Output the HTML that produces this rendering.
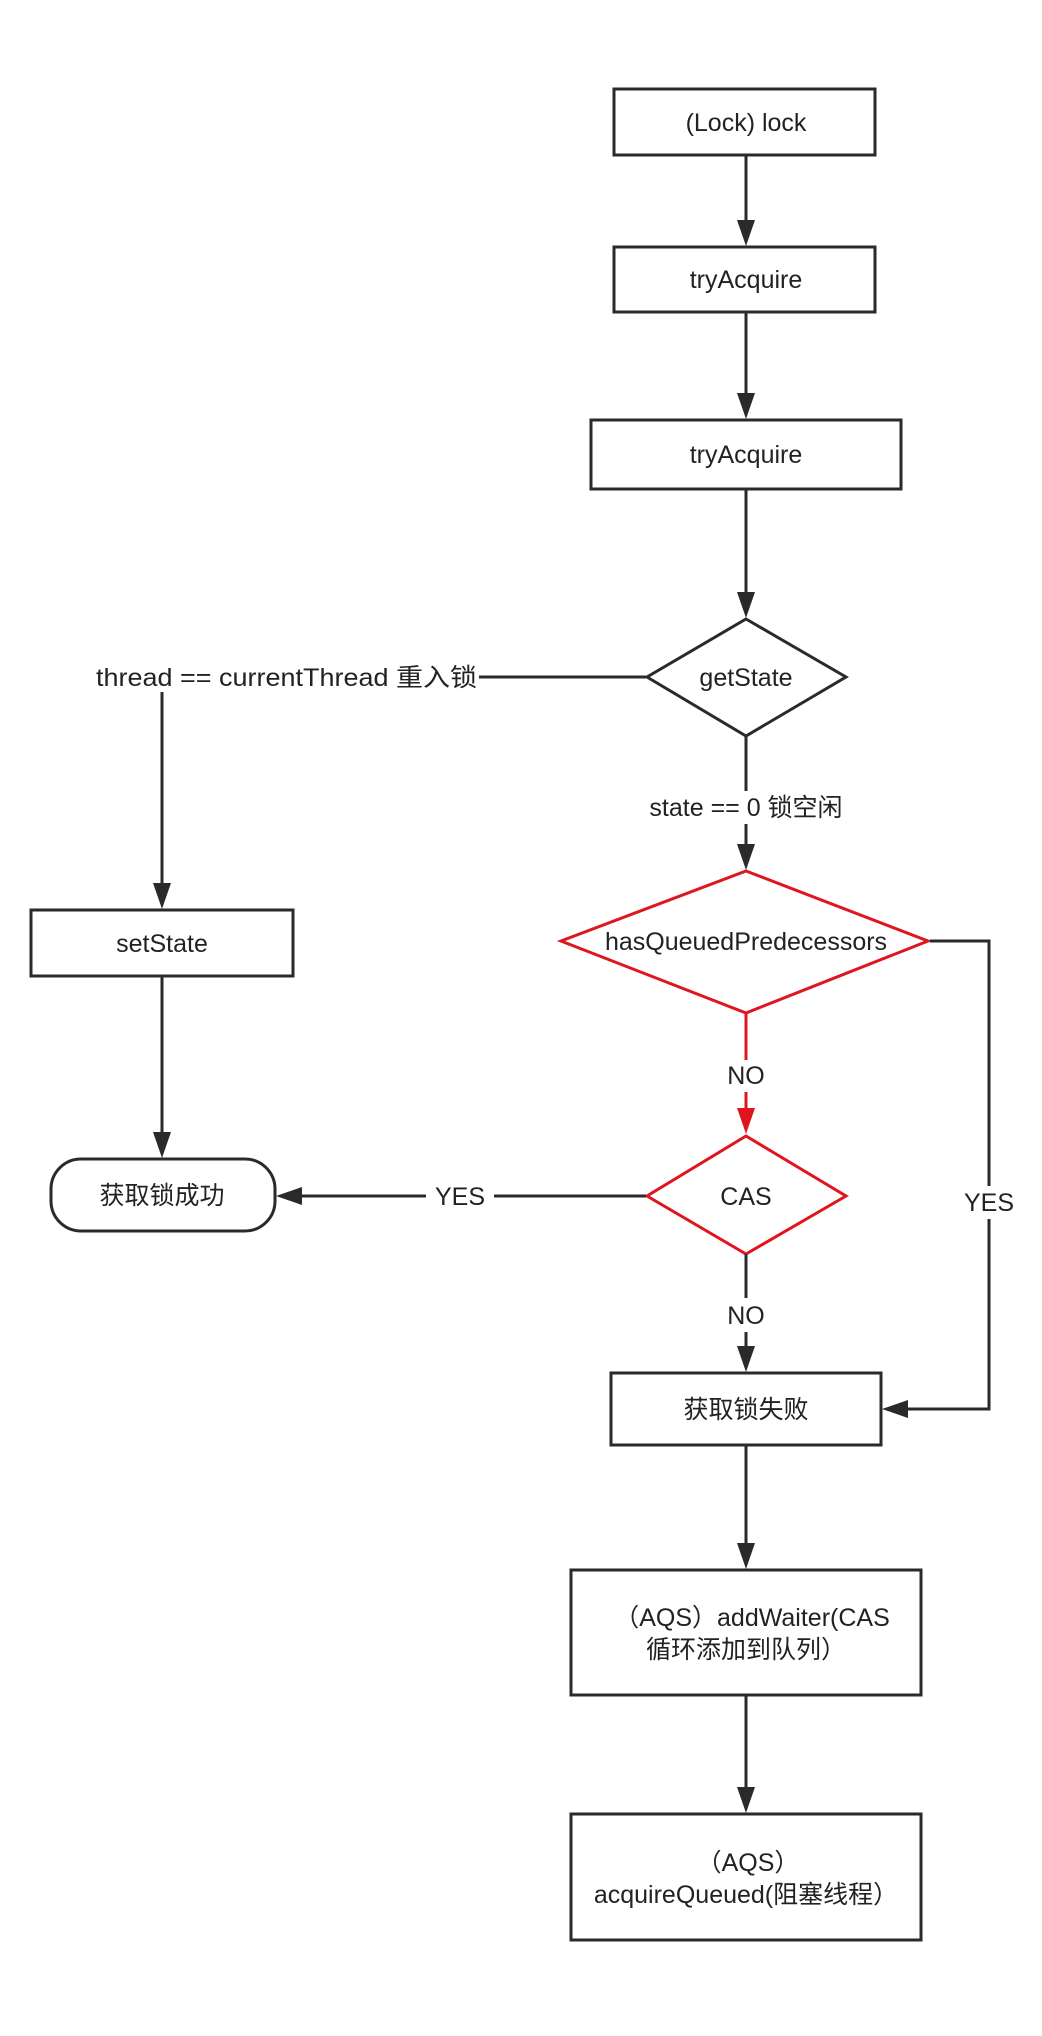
<!DOCTYPE html>
<html><head><meta charset="utf-8"><style>
html,body{margin:0;padding:0;background:#fff;}
svg{display:block;}
text{font-family:"Liberation Sans","Noto Sans CJK SC",sans-serif;font-size:25px;fill:#222;}
</style></head><body>
<svg width="1042" height="2036" viewBox="0 0 1042 2036" xmlns="http://www.w3.org/2000/svg">
<g stroke="#2a2a2a" stroke-width="3" fill="none">
<rect x="614" y="89" width="261" height="66"/>
<rect x="614" y="247" width="261" height="65"/>
<rect x="591" y="420" width="310" height="69"/>
<polygon points="746,619 846,677 746,736 647,677"/>
<rect x="31" y="910" width="262" height="66"/>
<rect x="51" y="1159" width="224" height="72" rx="30"/>
<rect x="611" y="1373" width="270" height="72"/>
<rect x="571" y="1570" width="350" height="125"/>
<rect x="571" y="1814" width="350" height="126"/>
</g>
<g stroke="#e0161f" stroke-width="3" fill="none">
<polygon points="746,871 928,941 746,1013 561,941"/>
<polygon points="746,1136 846,1196 746,1254 647,1196"/>
<line x1="746" y1="1013" x2="746" y2="1060"/>
<line x1="746" y1="1092" x2="746" y2="1110"/>
</g>
<path d="M737,1108 L755,1108 L746,1134 z" fill="#e0161f"/>
<g stroke="#2a2a2a" stroke-width="3" fill="none">
<line x1="746" y1="155" x2="746" y2="222"/>
<line x1="746" y1="312" x2="746" y2="395"/>
<line x1="746" y1="489" x2="746" y2="594"/>
<line x1="646" y1="677" x2="479" y2="677"/>
<line x1="162" y1="692" x2="162" y2="885"/>
<line x1="162" y1="976" x2="162" y2="1134"/>
<line x1="746" y1="736" x2="746" y2="791"/>
<line x1="746" y1="824" x2="746" y2="846"/>
<polyline points="930,941 989,941 989,1186"/>
<polyline points="989,1219 989,1409 906,1409"/>
<line x1="646" y1="1196" x2="494" y2="1196"/>
<line x1="426" y1="1196" x2="300" y2="1196"/>
<line x1="746" y1="1254" x2="746" y2="1298"/>
<line x1="746" y1="1332" x2="746" y2="1348"/>
<line x1="746" y1="1445" x2="746" y2="1545"/>
<line x1="746" y1="1695" x2="746" y2="1789"/>
</g>
<g fill="#2a2a2a">
<path d="M737,220 L755,220 L746,246 z"/>
<path d="M737,393 L755,393 L746,419 z"/>
<path d="M737,592 L755,592 L746,618 z"/>
<path d="M153,883 L171,883 L162,909 z"/>
<path d="M153,1132 L171,1132 L162,1158 z"/>
<path d="M737,844 L755,844 L746,870 z"/>
<path d="M737,1346 L755,1346 L746,1372 z"/>
<path d="M737,1543 L755,1543 L746,1569 z"/>
<path d="M737,1787 L755,1787 L746,1813 z"/>
<path d="M302,1187 L302,1205 L276,1196 z"/>
<path d="M908,1400 L908,1418 L882,1409 z"/>
</g>
<g text-anchor="middle">
<text x="746" y="131">(Lock) lock</text>
<text x="746" y="288">tryAcquire</text>
<text x="746" y="463">tryAcquire</text>
<text x="746" y="686">getState</text>
<text x="96" y="686" text-anchor="start" textLength="381" lengthAdjust="spacingAndGlyphs">thread == currentThread 重入锁</text>
<text x="746" y="816">state == 0 锁空闲</text>
<text x="746" y="950">hasQueuedPredecessors</text>
<text x="162" y="952">setState</text>
<text x="746" y="1084">NO</text>
<text x="746" y="1205">CAS</text>
<text x="162" y="1204">获取锁成功</text>
<text x="460" y="1205">YES</text>
<text x="989" y="1211">YES</text>
<text x="746" y="1324">NO</text>
<text x="746" y="1418">获取锁失败</text>
<text x="752" y="1626">（AQS）addWaiter(CAS</text>
<text x="746" y="1658">循环添加到队列）</text>
<text x="748" y="1871">（AQS）</text>
<text x="746" y="1903">acquireQueued(阻塞线程）</text>
</g>
</svg>
</body></html>
